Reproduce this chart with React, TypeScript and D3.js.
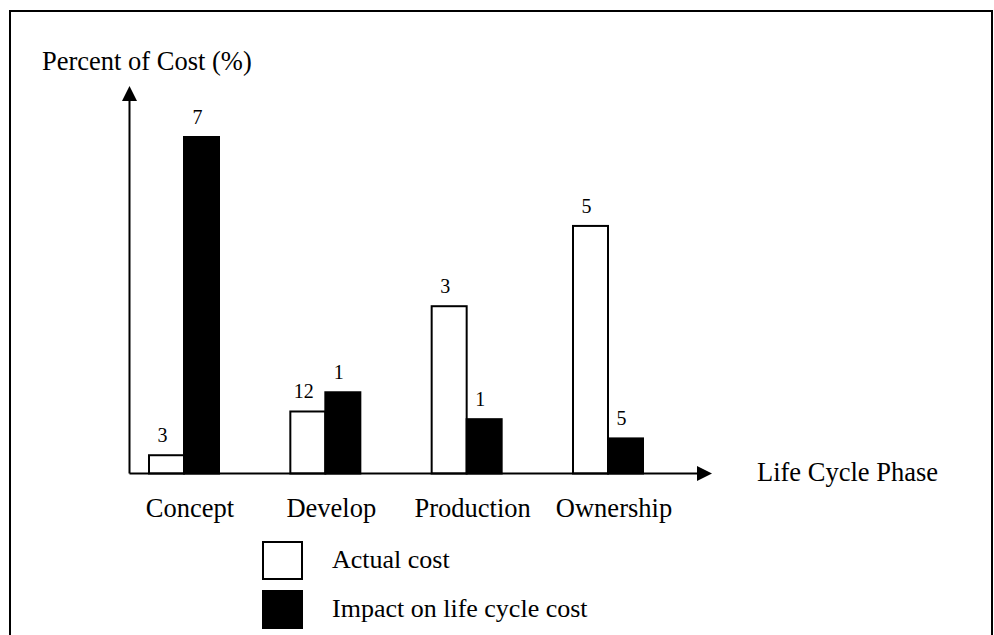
import React from 'react';
import * as d3 from 'd3';

// phases along the x axis
const phases = ['Concept', 'Develop', 'Production', 'Ownership'];
// bar heights (percent of cost)
const actualCost = [3.8, 12.9, 34.8, 51.5];
const impactCost = [70, 16.9, 11.3, 7.3];
// value labels as printed above the bars
const actualLabels = ['3', '12', '3', '5'];
const impactLabels = ['7', '1', '1', '5'];
const seriesKeys = ['actual', 'impact'];
const legendItems = ['Actual cost', 'Impact on life cycle cost'];

const W = 994;
const H = 635;
const FONT = '"Liberation Serif", "Times New Roman", serif';

const App = () => {
  // axis geometry
  const originX = 129.5;
  const baseY = 473.5;
  const axisTopY = 86;
  const axisEndX = 712;

  const yScale = d3.scaleLinear().domain([0, 70]).range([baseY, 137]);
  const xGroup = d3.scalePoint<string>().domain(phases).range([184, 608]);
  const xSub = d3.scaleBand<string>().domain(seriesKeys).range([-35, 35]).padding(0);

  const series = [
    { key: 'actual', values: actualCost, labels: actualLabels, fill: '#ffffff' },
    { key: 'impact', values: impactCost, labels: impactLabels, fill: '#000000' },
  ];

  return (
    <svg
      width={W}
      height={H}
      viewBox={`0 0 ${W} ${H}`}
      style={{ position: 'absolute', left: 0, top: 0, background: '#fff', fontFamily: FONT }}
    >
      {/* frame */}
      <path d={`M10,${H} V11 H992 V${H}`} fill="none" stroke="#000" strokeWidth={2} />

      {/* y axis title */}
      <text x={42} y={70} fontSize={26.5} fill="#000">Percent of Cost (%)</text>

      {/* bars */}
      {series.map((s) =>
        phases.map((p, i) => {
          const x = (xGroup(p) as number) + (xSub(s.key) as number);
          const y = yScale(s.values[i]);
          const bw = xSub.bandwidth();
          return (
            <g key={s.key + p}>
              <rect
                x={x}
                y={y}
                width={bw}
                height={baseY - y}
                fill={s.fill}
                stroke="#000"
                strokeWidth={2}
              />
              <text
                x={x + bw / 2 - 4}
                y={y - 13}
                textAnchor="middle"
                fontSize={20}
                fill="#000"
              >
                {s.labels[i]}
              </text>
            </g>
          );
        })
      )}

      {/* axes with arrowheads */}
      <line x1={originX} y1={baseY} x2={originX} y2={axisTopY + 14} stroke="#000" strokeWidth={2} />
      <polygon
        points={`${originX},${axisTopY} ${originX - 7.5},${axisTopY + 15} ${originX + 7.5},${axisTopY + 15}`}
        fill="#000"
      />
      <line x1={originX} y1={baseY} x2={axisEndX - 14} y2={baseY} stroke="#000" strokeWidth={2} />
      <polygon
        points={`${axisEndX},${baseY} ${axisEndX - 15},${baseY - 7.5} ${axisEndX - 15},${baseY + 7.5}`}
        fill="#000"
      />
      <text x={757} y={481} fontSize={26.5} fill="#000">Life Cycle Phase</text>

      {/* category labels */}
      {phases.map((p) => (
        <text
          key={p}
          x={(xGroup(p) as number) + 6}
          y={517}
          textAnchor="middle"
          fontSize={26.5}
          fill="#000"
        >
          {p}
        </text>
      ))}

      {/* legend */}
      {legendItems.map((label, i) => (
        <g key={label} transform={`translate(0, ${i * 49})`}>
          <rect
            x={263}
            y={542}
            width={39}
            height={37}
            fill={series[i].fill}
            stroke="#000"
            strokeWidth={2}
          />
          <text x={332} y={568} fontSize={26} fill="#000">{label}</text>
        </g>
      ))}
    </svg>
  );
};

export default App;
